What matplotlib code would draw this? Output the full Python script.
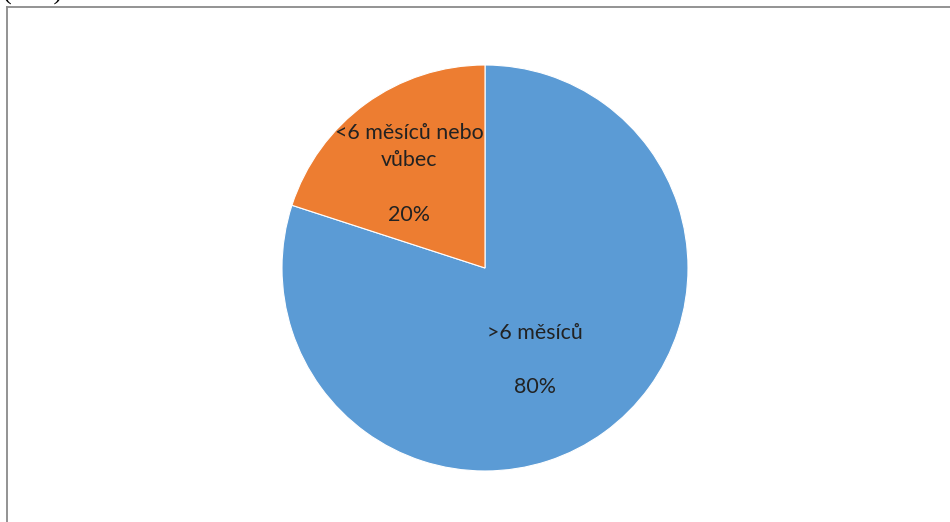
import matplotlib

matplotlib.use("Agg")
import matplotlib.pyplot as plt
from matplotlib.lines import Line2D

# Share of respondents by period
labels = [">6 měsíců", "<6 měsíců nebo\nvůbec"]
shares = [80, 20]
colors = ["#5B9BD5", "#ED7D31"]
title_text = "(v %)"

W, H = 950, 522
fig = plt.figure(figsize=(W / 100, H / 100), dpi=100)
ax = fig.add_axes([0, 0, 1, 1])

# pie in pixel-like coordinates (y measured upward)
center = (485, H - 268)
radius = 203
wedges, _ = ax.pie(
    shares,
    colors=colors,
    startangle=90,
    counterclock=False,
    center=center,
    radius=radius,
    wedgeprops=dict(linewidth=0.8, edgecolor="white"),
)
ax.set_xlim(0, W)
ax.set_ylim(0, H)
ax.set_aspect("auto")
ax.axis("off")

# in-slice labels: name, blank line, percentage
label_pos = [(535, H - 360), (409, H - 174)]
for lab, val, (x, y) in zip(labels, shares, label_pos):
    ax.text(
        x, y, f"{lab}\n\n{val}%",
        ha="center", va="center", fontsize=15.4, family="Lato",
        color="#222222", linespacing=1.46,
    )

# chart frame, clipped at the right and bottom
frame = dict(color="#8a8a8a", linewidth=1.3, transform=fig.transFigure)
fig.add_artist(Line2D([6.5 / W, 6.5 / W], [0, 1 - 7 / H], **frame))
fig.add_artist(Line2D([6.5 / W, 1], [1 - 7 / H, 1 - 7 / H], **frame))

# heading above the frame, mostly cut off
fig.text(3 / W, 1, title_text, ha="left", va="baseline",
         fontsize=19, family="Liberation Serif", color="black")

fig.savefig("out.png", dpi=100)
